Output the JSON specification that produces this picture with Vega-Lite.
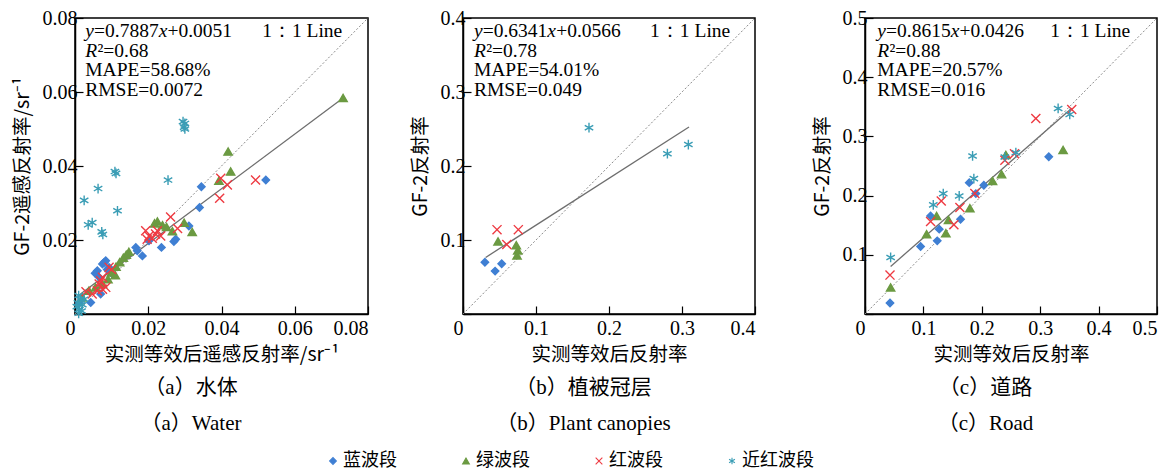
{
  "$schema": "https://vega.github.io/schema/vega-lite/v6.json",
  "padding": {"left": 11, "top": 7, "right": 5, "bottom": 5},
  "datasets": {
    "ptsA": [
      {"band":"蓝波段","x":0.0521,"y":0.0362},{"band":"蓝波段","x":0.0345,"y":0.0344},{"band":"蓝波段","x":0.034,"y":0.0288},{"band":"蓝波段","x":0.0311,"y":0.0238},{"band":"蓝波段","x":0.0275,"y":0.0202},{"band":"蓝波段","x":0.027,"y":0.0196},{"band":"蓝波段","x":0.0236,"y":0.018},{"band":"蓝波段","x":0.0202,"y":0.0198},{"band":"蓝波段","x":0.0184,"y":0.0157},{"band":"蓝波段","x":0.0166,"y":0.018},{"band":"蓝波段","x":0.017,"y":0.0171},{"band":"蓝波段","x":0.0061,"y":0.0117},{"band":"蓝波段","x":0.0075,"y":0.0135},{"band":"蓝波段","x":0.0084,"y":0.0144},{"band":"蓝波段","x":0.0093,"y":0.0126},{"band":"蓝波段","x":0.0066,"y":0.0099},{"band":"蓝波段","x":0.0102,"y":0.0108},{"band":"蓝波段","x":0.007,"y":0.0054},{"band":"蓝波段","x":0.0043,"y":0.0031},{"band":"蓝波段","x":0.008,"y":0.014},{"band":"蓝波段","x":0.0088,"y":0.012},{"band":"蓝波段","x":0.0055,"y":0.011},{"band":"蓝波段","x":0.0012,"y":0.003},
      {"band":"绿波段","x":0.0732,"y":0.0584},{"band":"绿波段","x":0.0418,"y":0.0439},{"band":"绿波段","x":0.0425,"y":0.0385},{"band":"绿波段","x":0.0393,"y":0.036},{"band":"绿波段","x":0.032,"y":0.0222},{"band":"绿波段","x":0.0298,"y":0.0247},{"band":"绿波段","x":0.0266,"y":0.0224},{"band":"绿波段","x":0.0239,"y":0.024},{"band":"绿波段","x":0.0225,"y":0.025},{"band":"绿波段","x":0.0217,"y":0.0245},{"band":"绿波段","x":0.025,"y":0.0235},{"band":"绿波段","x":0.0147,"y":0.0168},{"band":"绿波段","x":0.014,"y":0.016},{"band":"绿波段","x":0.0132,"y":0.0152},{"band":"绿波段","x":0.0122,"y":0.014},{"band":"绿波段","x":0.0112,"y":0.0128},{"band":"绿波段","x":0.01,"y":0.0112},{"band":"绿波段","x":0.009,"y":0.0094},{"band":"绿波段","x":0.0075,"y":0.0081},{"band":"绿波段","x":0.0056,"y":0.0072},{"band":"绿波段","x":0.0038,"y":0.0063},{"band":"绿波段","x":0.002,"y":0.0045},{"band":"绿波段","x":0.011,"y":0.0105},
      {"band":"红波段","x":0.0493,"y":0.0362},{"band":"红波段","x":0.0398,"y":0.0367},{"band":"红波段","x":0.0416,"y":0.0349},{"band":"红波段","x":0.0395,"y":0.0313},{"band":"红波段","x":0.0261,"y":0.0262},{"band":"红波段","x":0.028,"y":0.0231},{"band":"红波段","x":0.0225,"y":0.0225},{"band":"红波段","x":0.0193,"y":0.0225},{"band":"红波段","x":0.0202,"y":0.0211},{"band":"红波段","x":0.0211,"y":0.0205},{"band":"红波段","x":0.022,"y":0.0216},{"band":"红波段","x":0.0234,"y":0.0211},{"band":"红波段","x":0.0197,"y":0.0202},{"band":"红波段","x":0.0093,"y":0.0126},{"band":"红波段","x":0.0075,"y":0.0099},{"band":"红波段","x":0.0066,"y":0.0081},{"band":"红波段","x":0.0084,"y":0.0072},{"band":"红波段","x":0.0061,"y":0.0063},{"band":"红波段","x":0.0047,"y":0.0054},{"band":"红波段","x":0.0075,"y":0.0067},{"band":"红波段","x":0.003,"y":0.006},{"band":"红波段","x":0.01,"y":0.012},{"band":"红波段","x":0.007,"y":0.009},
      {"band":"近红波段","x":0.0295,"y":0.052},{"band":"近红波段","x":0.03,"y":0.0515},{"band":"近红波段","x":0.0298,"y":0.0505},{"band":"近红波段","x":0.03,"y":0.05},{"band":"近红波段","x":0.0254,"y":0.0362},{"band":"近红波段","x":0.0109,"y":0.0385},{"band":"近红波段","x":0.0112,"y":0.038},{"band":"近红波段","x":0.0116,"y":0.0279},{"band":"近红波段","x":0.0063,"y":0.0339},{"band":"近红波段","x":0.0025,"y":0.0307},{"band":"近红波段","x":0.0047,"y":0.0247},{"band":"近红波段","x":0.0036,"y":0.0241},{"band":"近红波段","x":0.0073,"y":0.0222},{"band":"近红波段","x":0.0076,"y":0.0215},{"band":"近红波段","x":0.001,"y":0.005},{"band":"近红波段","x":0.0015,"y":0.004},{"band":"近红波段","x":0.0008,"y":0.003},{"band":"近红波段","x":0.002,"y":0.0025},{"band":"近红波段","x":0.0012,"y":0.0012},{"band":"近红波段","x":0.001,"y":0.0002},{"band":"近红波段","x":0.0025,"y":0.004},{"band":"近红波段","x":0.0005,"y":0.002},{"band":"近红波段","x":0.0018,"y":0.0008}
    ],
    "ptsB": [
      {"band":"蓝波段","x":0.03,"y":0.07},{"band":"蓝波段","x":0.044,"y":0.058},{"band":"蓝波段","x":0.053,"y":0.068},
      {"band":"绿波段","x":0.048,"y":0.098},{"band":"绿波段","x":0.073,"y":0.093},{"band":"绿波段","x":0.075,"y":0.086},{"band":"绿波段","x":0.074,"y":0.079},
      {"band":"红波段","x":0.0466,"y":0.114},{"band":"红波段","x":0.0758,"y":0.114},{"band":"红波段","x":0.06,"y":0.094},
      {"band":"近红波段","x":0.1726,"y":0.2517},{"band":"近红波段","x":0.28,"y":0.2166},{"band":"近红波段","x":0.3087,"y":0.229}
    ],
    "ptsC": [
      {"band":"蓝波段","x":0.0428,"y":0.0185},{"band":"蓝波段","x":0.0952,"y":0.114},{"band":"蓝波段","x":0.1123,"y":0.1657},{"band":"蓝波段","x":0.1271,"y":0.1433},{"band":"蓝波段","x":0.1237,"y":0.1236},{"band":"蓝波段","x":0.1636,"y":0.16},{"band":"蓝波段","x":0.1785,"y":0.2219},{"band":"蓝波段","x":0.1898,"y":0.2034},{"band":"蓝波段","x":0.2035,"y":0.2174},{"band":"蓝波段","x":0.3147,"y":0.2657},
      {"band":"绿波段","x":0.0439,"y":0.0449},{"band":"绿波段","x":0.1055,"y":0.1348},{"band":"绿波段","x":0.1226,"y":0.1657},{"band":"绿波段","x":0.143,"y":0.159},{"band":"绿波段","x":0.1385,"y":0.1365},{"band":"绿波段","x":0.1796,"y":0.1787},{"band":"绿波段","x":0.2184,"y":0.2247},{"band":"绿波段","x":0.2338,"y":0.236},{"band":"绿波段","x":0.2412,"y":0.2685},{"band":"绿波段","x":0.3392,"y":0.277},
      {"band":"红波段","x":0.0428,"y":0.0657},{"band":"红波段","x":0.1123,"y":0.1562},{"band":"红波段","x":0.1306,"y":0.191},{"band":"红波段","x":0.1522,"y":0.1506},{"band":"红波段","x":0.1625,"y":0.1798},{"band":"红波段","x":0.1881,"y":0.2034},{"band":"红波段","x":0.2395,"y":0.2596},{"band":"红波段","x":0.256,"y":0.2708},{"band":"红波段","x":0.2925,"y":0.3303},{"band":"红波段","x":0.354,"y":0.3455},
      {"band":"近红波段","x":0.0439,"y":0.0955},{"band":"近红波段","x":0.1169,"y":0.1843},{"band":"近红波段","x":0.134,"y":0.2034},{"band":"近红波段","x":0.1613,"y":0.1994},{"band":"近红波段","x":0.1842,"y":0.2669},{"band":"近红波段","x":0.1864,"y":0.2287},{"band":"近红波段","x":0.2395,"y":0.2652},{"band":"近红波段","x":0.2583,"y":0.2725},{"band":"近红波段","x":0.3307,"y":0.3472},{"band":"近红波段","x":0.3506,"y":0.3371}
    ],
    "bands": [{"band":"蓝波段"},{"band":"绿波段"},{"band":"红波段"},{"band":"近红波段"}],
    "linesA": [{"kind":"one","x":0,"y":0},{"kind":"one","x":0.08,"y":0.08},{"kind":"fit","x":0.0015,"y":0.0054},{"kind":"fit","x":0.0732,"y":0.0584}],
    "linesB": [{"kind":"one","x":0,"y":0},{"kind":"one","x":0.4,"y":0.4},{"kind":"fit","x":0.031,"y":0.0764},{"kind":"fit","x":0.3096,"y":0.2526}],
    "linesC": [{"kind":"one","x":0,"y":0},{"kind":"one","x":0.5,"y":0.5},{"kind":"fit","x":0.0439,"y":0.0804},{"kind":"fit","x":0.354,"y":0.3476}],
    "textA": [{"x":0.0028,"y":0.0788,"slope":"=0.7887","icpt":"+0.0051","r2":"²=0.68","rest":["MAPE=58.68%","RMSE=0.0072"],"x2":0.0511,"tag":"1：1 Line"}],
    "textB": [{"x":0.015,"y":0.394,"slope":"=0.6341","icpt":"+0.0566","r2":"²=0.78","rest":["MAPE=54.01%","RMSE=0.049"],"x2":0.2563,"tag":"1：1 Line"}],
    "textC": [{"x":0.021,"y":0.4925,"slope":"=0.8615","icpt":"+0.0426","r2":"²=0.88","rest":["MAPE=20.57%","RMSE=0.016"],"x2":0.317,"tag":"1：1 Line"}]
  },
  "vconcat": [
    {
      "hconcat": [
        {
          "width": 293, "height": 296,
          "title": {"text": ["（a）水体", "（a）Water"]},
          "layer": [
            {"data": {"name": "linesA"}, "transform": [{"filter": "datum.kind == 'one'"}], "mark": {"type": "line", "color": "#8a8a8a", "strokeWidth": 1, "strokeDash": [2, 2]},
             "encoding": {"x": {"field": "x", "type": "quantitative", "scale": {"domain": [0, 0.08], "nice": false}, "axis": {"values": [0, 0.02, 0.04, 0.06, 0.08], "title": "实测等效后遥感反射率/sr⁻¹", "labelExpr": "datum.value == 0 ? '0' : format(datum.value, '~g')", "labelOffset": {"condition": {"test": "datum.value == 0", "value": -10}, "value": 0}}},
                          "y": {"field": "y", "type": "quantitative", "scale": {"domain": [0, 0.08], "nice": false}, "axis": {"values": [0, 0.02, 0.04, 0.06, 0.08], "title": "GF-2遥感反射率/sr⁻¹", "labelExpr": "datum.value == 0 ? '' : format(datum.value, '~g')"}}}},
            {"data": {"name": "linesA"}, "transform": [{"filter": "datum.kind == 'fit'"}], "mark": {"type": "line", "color": "#6e6e6e", "strokeWidth": 1.3},
             "encoding": {"x": {"field": "x", "type": "quantitative"}, "y": {"field": "y", "type": "quantitative"}}},
            {"data": {"name": "ptsA"}, "mark": {"type": "point", "filled": true, "strokeWidth": 1.4, "opacity": 1},
             "encoding": {"x": {"field": "x", "type": "quantitative"}, "y": {"field": "y", "type": "quantitative"},
                          "fill": {"field": "band", "type": "nominal", "scale": {"domain": ["蓝波段","绿波段","红波段","近红波段"], "range": ["#3f7fd3","#6b9a42","#ee3a42","#3a9db5"]}, "legend": null},
                          "stroke": {"field": "band", "type": "nominal", "scale": {"domain": ["蓝波段","绿波段","红波段","近红波段"], "range": ["#3f7fd3","#6b9a42","#ee3a42","#3a9db5"]}, "legend": null},
                          "shape": {"field": "band", "type": "nominal", "scale": {"domain": ["蓝波段","绿波段","红波段","近红波段"], "range": ["diamond","triangle-up","M-1,-1L1,1M-1,1L1,-1","M0,-1L0,1M-0.87,-0.5L0.87,0.5M-0.87,0.5L0.87,-0.5"]}, "legend": null},
                          "size": {"field": "band", "type": "nominal", "scale": {"domain": ["蓝波段","绿波段","红波段","近红波段"], "range": [55, 95, 100, 125]}, "legend": null}}},
            {"data": {"name": "textA"}, "mark": {"type": "text", "align": "left", "baseline": "top", "font": "Liberation Serif", "fontSize": 19.5, "fontStyle": "italic", "color": "black", "text": "y"},
             "encoding": {"x": {"field": "x", "type": "quantitative"}, "y": {"field": "y", "type": "quantitative"}}},
            {"data": {"name": "textA"}, "mark": {"type": "text", "align": "left", "baseline": "top", "font": "Liberation Serif", "fontSize": 19.5, "color": "black", "dx": 8.8},
             "encoding": {"x": {"field": "x", "type": "quantitative"}, "y": {"field": "y", "type": "quantitative"}, "text": {"field": "slope"}}},
            {"data": {"name": "textA"}, "mark": {"type": "text", "align": "left", "baseline": "top", "font": "Liberation Serif", "fontSize": 19.5, "fontStyle": "italic", "color": "black", "dx": 73.4, "text": "x"},
             "encoding": {"x": {"field": "x", "type": "quantitative"}, "y": {"field": "y", "type": "quantitative"}}},
            {"data": {"name": "textA"}, "mark": {"type": "text", "align": "left", "baseline": "top", "font": "Liberation Serif", "fontSize": 19.5, "color": "black", "dx": 82.2},
             "encoding": {"x": {"field": "x", "type": "quantitative"}, "y": {"field": "y", "type": "quantitative"}, "text": {"field": "icpt"}}},
            {"data": {"name": "textA"}, "mark": {"type": "text", "align": "left", "baseline": "top", "font": "Liberation Serif", "fontSize": 19.5, "fontStyle": "italic", "color": "black", "dy": 19.5, "text": "R"},
             "encoding": {"x": {"field": "x", "type": "quantitative"}, "y": {"field": "y", "type": "quantitative"}}},
            {"data": {"name": "textA"}, "mark": {"type": "text", "align": "left", "baseline": "top", "font": "Liberation Serif", "fontSize": 19.5, "color": "black", "dx": 12.2, "dy": 19.5},
             "encoding": {"x": {"field": "x", "type": "quantitative"}, "y": {"field": "y", "type": "quantitative"}, "text": {"field": "r2"}}},
            {"data": {"name": "textA"}, "mark": {"type": "text", "align": "left", "baseline": "top", "font": "Liberation Serif", "fontSize": 19.5, "lineHeight": 19.5, "color": "black", "dy": 39},
             "encoding": {"x": {"field": "x", "type": "quantitative"}, "y": {"field": "y", "type": "quantitative"}, "text": {"field": "rest"}}},
            {"data": {"name": "textA"}, "mark": {"type": "text", "align": "left", "baseline": "top", "font": "Liberation Serif", "fontSize": 19.5, "color": "black"},
             "encoding": {"x": {"field": "x2", "type": "quantitative"}, "y": {"field": "y", "type": "quantitative"}, "text": {"field": "tag"}}}
          ]
        },
        {
          "hconcat": [
            {
              "width": 292, "height": 296,
              "title": {"text": ["（b）植被冠层", "（b）Plant canopies"]},
              "layer": [
                {"data": {"name": "linesB"}, "transform": [{"filter": "datum.kind == 'one'"}], "mark": {"type": "line", "color": "#8a8a8a", "strokeWidth": 1, "strokeDash": [2, 2]},
                 "encoding": {"x": {"field": "x", "type": "quantitative", "scale": {"domain": [0, 0.4], "nice": false}, "axis": {"values": [0, 0.1, 0.2, 0.3, 0.4], "title": "实测等效后反射率", "labelExpr": "datum.value == 0 ? '0' : format(datum.value, '~g')", "labelOffset": {"condition": {"test": "datum.value == 0", "value": -10}, "value": 0}}},
                              "y": {"field": "y", "type": "quantitative", "scale": {"domain": [0, 0.4], "nice": false}, "axis": {"values": [0, 0.1, 0.2, 0.3, 0.4], "title": "GF-2反射率", "labelExpr": "datum.value == 0 ? '' : format(datum.value, '~g')"}}}},
                {"data": {"name": "linesB"}, "transform": [{"filter": "datum.kind == 'fit'"}], "mark": {"type": "line", "color": "#6e6e6e", "strokeWidth": 1.3},
                 "encoding": {"x": {"field": "x", "type": "quantitative"}, "y": {"field": "y", "type": "quantitative"}}},
                {"data": {"name": "ptsB"}, "mark": {"type": "point", "filled": true, "strokeWidth": 1.4, "opacity": 1},
                 "encoding": {"x": {"field": "x", "type": "quantitative"}, "y": {"field": "y", "type": "quantitative"},
                              "fill": {"field": "band", "type": "nominal", "legend": null},
                              "stroke": {"field": "band", "type": "nominal", "legend": null},
                              "shape": {"field": "band", "type": "nominal", "legend": null},
                              "size": {"field": "band", "type": "nominal", "legend": null}}},
                {"data": {"name": "textB"}, "mark": {"type": "text", "align": "left", "baseline": "top", "font": "Liberation Serif", "fontSize": 19.5, "fontStyle": "italic", "color": "black", "text": "y"},
                 "encoding": {"x": {"field": "x", "type": "quantitative"}, "y": {"field": "y", "type": "quantitative"}}},
                {"data": {"name": "textB"}, "mark": {"type": "text", "align": "left", "baseline": "top", "font": "Liberation Serif", "fontSize": 19.5, "color": "black", "dx": 8.8},
                 "encoding": {"x": {"field": "x", "type": "quantitative"}, "y": {"field": "y", "type": "quantitative"}, "text": {"field": "slope"}}},
                {"data": {"name": "textB"}, "mark": {"type": "text", "align": "left", "baseline": "top", "font": "Liberation Serif", "fontSize": 19.5, "fontStyle": "italic", "color": "black", "dx": 73.4, "text": "x"},
                 "encoding": {"x": {"field": "x", "type": "quantitative"}, "y": {"field": "y", "type": "quantitative"}}},
                {"data": {"name": "textB"}, "mark": {"type": "text", "align": "left", "baseline": "top", "font": "Liberation Serif", "fontSize": 19.5, "color": "black", "dx": 82.2},
                 "encoding": {"x": {"field": "x", "type": "quantitative"}, "y": {"field": "y", "type": "quantitative"}, "text": {"field": "icpt"}}},
                {"data": {"name": "textB"}, "mark": {"type": "text", "align": "left", "baseline": "top", "font": "Liberation Serif", "fontSize": 19.5, "fontStyle": "italic", "color": "black", "dy": 19.5, "text": "R"},
                 "encoding": {"x": {"field": "x", "type": "quantitative"}, "y": {"field": "y", "type": "quantitative"}}},
                {"data": {"name": "textB"}, "mark": {"type": "text", "align": "left", "baseline": "top", "font": "Liberation Serif", "fontSize": 19.5, "color": "black", "dx": 12.2, "dy": 19.5},
                 "encoding": {"x": {"field": "x", "type": "quantitative"}, "y": {"field": "y", "type": "quantitative"}, "text": {"field": "r2"}}},
                {"data": {"name": "textB"}, "mark": {"type": "text", "align": "left", "baseline": "top", "font": "Liberation Serif", "fontSize": 19.5, "lineHeight": 19.5, "color": "black", "dy": 39},
                 "encoding": {"x": {"field": "x", "type": "quantitative"}, "y": {"field": "y", "type": "quantitative"}, "text": {"field": "rest"}}},
                {"data": {"name": "textB"}, "mark": {"type": "text", "align": "left", "baseline": "top", "font": "Liberation Serif", "fontSize": 19.5, "color": "black"},
                 "encoding": {"x": {"field": "x2", "type": "quantitative"}, "y": {"field": "y", "type": "quantitative"}, "text": {"field": "tag"}}}
              ]
            },
            {
              "width": 292, "height": 296,
              "title": {"text": ["（c）道路", "（c）Road"]},
              "layer": [
                {"data": {"name": "linesC"}, "transform": [{"filter": "datum.kind == 'one'"}], "mark": {"type": "line", "color": "#8a8a8a", "strokeWidth": 1, "strokeDash": [2, 2]},
                 "encoding": {"x": {"field": "x", "type": "quantitative", "scale": {"domain": [0, 0.5], "nice": false}, "axis": {"values": [0, 0.1, 0.2, 0.3, 0.4, 0.5], "title": "实测等效后反射率", "labelExpr": "datum.value == 0 ? '0' : format(datum.value, '~g')", "labelOffset": {"condition": {"test": "datum.value == 0", "value": -10}, "value": 0}}},
                              "y": {"field": "y", "type": "quantitative", "scale": {"domain": [0, 0.5], "nice": false}, "axis": {"values": [0, 0.1, 0.2, 0.3, 0.4, 0.5], "title": "GF-2反射率", "labelExpr": "datum.value == 0 ? '' : format(datum.value, '~g')"}}}},
                {"data": {"name": "linesC"}, "transform": [{"filter": "datum.kind == 'fit'"}], "mark": {"type": "line", "color": "#6e6e6e", "strokeWidth": 1.3},
                 "encoding": {"x": {"field": "x", "type": "quantitative"}, "y": {"field": "y", "type": "quantitative"}}},
                {"data": {"name": "ptsC"}, "mark": {"type": "point", "filled": true, "strokeWidth": 1.4, "opacity": 1},
                 "encoding": {"x": {"field": "x", "type": "quantitative"}, "y": {"field": "y", "type": "quantitative"},
                              "fill": {"field": "band", "type": "nominal", "legend": null},
                              "stroke": {"field": "band", "type": "nominal", "legend": null},
                              "shape": {"field": "band", "type": "nominal", "legend": null},
                              "size": {"field": "band", "type": "nominal", "legend": null}}},
                {"data": {"name": "textC"}, "mark": {"type": "text", "align": "left", "baseline": "top", "font": "Liberation Serif", "fontSize": 19.5, "fontStyle": "italic", "color": "black", "text": "y"},
                 "encoding": {"x": {"field": "x", "type": "quantitative"}, "y": {"field": "y", "type": "quantitative"}}},
                {"data": {"name": "textC"}, "mark": {"type": "text", "align": "left", "baseline": "top", "font": "Liberation Serif", "fontSize": 19.5, "color": "black", "dx": 8.8},
                 "encoding": {"x": {"field": "x", "type": "quantitative"}, "y": {"field": "y", "type": "quantitative"}, "text": {"field": "slope"}}},
                {"data": {"name": "textC"}, "mark": {"type": "text", "align": "left", "baseline": "top", "font": "Liberation Serif", "fontSize": 19.5, "fontStyle": "italic", "color": "black", "dx": 73.4, "text": "x"},
                 "encoding": {"x": {"field": "x", "type": "quantitative"}, "y": {"field": "y", "type": "quantitative"}}},
                {"data": {"name": "textC"}, "mark": {"type": "text", "align": "left", "baseline": "top", "font": "Liberation Serif", "fontSize": 19.5, "color": "black", "dx": 82.2},
                 "encoding": {"x": {"field": "x", "type": "quantitative"}, "y": {"field": "y", "type": "quantitative"}, "text": {"field": "icpt"}}},
                {"data": {"name": "textC"}, "mark": {"type": "text", "align": "left", "baseline": "top", "font": "Liberation Serif", "fontSize": 19.5, "fontStyle": "italic", "color": "black", "dy": 19.5, "text": "R"},
                 "encoding": {"x": {"field": "x", "type": "quantitative"}, "y": {"field": "y", "type": "quantitative"}}},
                {"data": {"name": "textC"}, "mark": {"type": "text", "align": "left", "baseline": "top", "font": "Liberation Serif", "fontSize": 19.5, "color": "black", "dx": 12.2, "dy": 19.5},
                 "encoding": {"x": {"field": "x", "type": "quantitative"}, "y": {"field": "y", "type": "quantitative"}, "text": {"field": "r2"}}},
                {"data": {"name": "textC"}, "mark": {"type": "text", "align": "left", "baseline": "top", "font": "Liberation Serif", "fontSize": 19.5, "lineHeight": 19.5, "color": "black", "dy": 39},
                 "encoding": {"x": {"field": "x", "type": "quantitative"}, "y": {"field": "y", "type": "quantitative"}, "text": {"field": "rest"}}},
                {"data": {"name": "textC"}, "mark": {"type": "text", "align": "left", "baseline": "top", "font": "Liberation Serif", "fontSize": 19.5, "color": "black"},
                 "encoding": {"x": {"field": "x2", "type": "quantitative"}, "y": {"field": "y", "type": "quantitative"}, "text": {"field": "tag"}}}
              ]
            }
          ],
          "spacing": 53,
          "resolve": {"scale": {"fill": "shared", "stroke": "shared", "shape": "shared", "size": "shared"}}
        }
      ],
      "spacing": 38,
      "resolve": {"scale": {"fill": "shared", "stroke": "shared", "shape": "shared", "size": "shared"}}
    },
    {
      "width": 1060, "height": 20,
      "view": {"stroke": null},
      "data": {"name": "bands"},
      "layer": [
        {"mark": {"type": "point", "filled": true, "size": 45, "strokeWidth": 1.1, "opacity": 1},
         "encoding": {"x": {"field": "band", "type": "nominal", "sort": null, "scale": {"type": "point", "domain": ["蓝波段","绿波段","红波段","近红波段"], "range": [258, 657], "padding": 0}, "axis": null},
                      "fill": {"field": "band", "type": "nominal", "legend": null},
                      "stroke": {"field": "band", "type": "nominal", "legend": null},
                      "shape": {"field": "band", "type": "nominal", "legend": null}}},
        {"mark": {"type": "text", "align": "left", "baseline": "middle", "dx": 10, "font": "Noto Sans CJK SC", "fontSize": 18, "color": "black"},
         "encoding": {"x": {"field": "band", "type": "nominal", "sort": null, "axis": null}, "text": {"field": "band"}}}
      ]
    }
  ],
  "spacing": 16,
  "resolve": {"scale": {"fill": "shared", "stroke": "shared", "shape": "shared", "size": "shared"}},
  "config": {
    "view": {"stroke": "black", "strokeWidth": 1.5},
    "axis": {"grid": false, "domainColor": "black", "domainWidth": 1.5, "tickColor": "black", "tickSize": -8, "tickWidth": 1.2, "labelFont": "Liberation Serif", "labelFontSize": 20, "labelColor": "black", "labelPadding": 6, "titleFont": "Noto Sans CJK SC", "titleFontSize": 19.5, "titleFontWeight": "normal", "titleColor": "black", "titlePadding": 7},
    "axisX": {"labelPadding": 12},
    "axisY": {"titlePadding": 10},
    "title": {"orient": "bottom", "frame": "bounds", "anchor": "middle", "font": "'Liberation Serif', 'Noto Sans CJK SC'", "fontSize": 21, "fontWeight": "normal", "color": "black", "lineHeight": 36, "offset": 13}
  }
}
